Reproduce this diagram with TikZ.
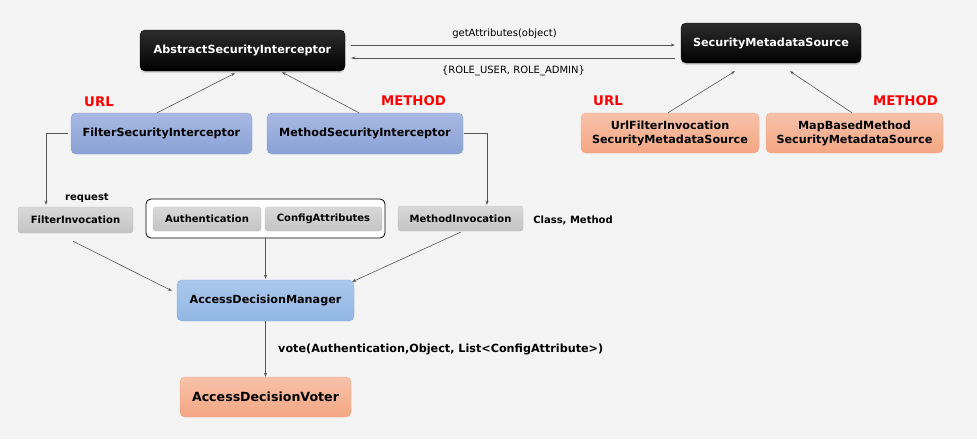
\documentclass[tikz,border=0pt]{standalone}
\usepackage{fontspec}
\setmainfont{DejaVu Sans}
\usetikzlibrary{arrows.meta,shadows}
\definecolor{bg}{HTML}{F4F4F4}
\definecolor{linec}{HTML}{555555}
\definecolor{redl}{HTML}{FF0000}
\begin{document}
\begin{tikzpicture}[x=1pt,y=-1pt,
  bigfont/.style={font=\fontsize{11.2}{14}\selectfont\bfseries},
  smallfont/.style={font=\fontsize{10}{12}\selectfont\bfseries},
  blk/.style={bigfont, text=white, rounded corners=5pt, inner sep=0pt,
    top color={rgb,255:red,45;green,45;blue,45}, bottom color=black, draw=black,
    drop shadow={opacity=0.25, shadow xshift=0pt, shadow yshift=-2pt}},
  blu/.style={bigfont, text=black, rounded corners=5pt, inner sep=0pt,
    top color={rgb,255:red,168;green,185;blue,226}, bottom color={rgb,255:red,138;green,162;blue,214},
    draw={rgb,255:red,132;green,158;blue,214}},
  adms/.style={bigfont, text=black, rounded corners=5pt, inner sep=0pt,
    top color={rgb,255:red,170;green,200;blue,236}, bottom color={rgb,255:red,146;green,183;blue,228},
    draw={rgb,255:red,132;green,172;blue,222}},
  org/.style={bigfont, text=black, rounded corners=5pt, inner sep=0pt, align=center,
    top color={rgb,255:red,248;green,194;blue,170}, bottom color={rgb,255:red,244;green,166;blue,130},
    draw={rgb,255:red,240;green,164;blue,128}},
  gry/.style={smallfont, text=black, rounded corners=3pt, inner sep=0pt,
    top color={rgb,255:red,216;green,216;blue,216}, bottom color={rgb,255:red,196;green,196;blue,196},
    draw={rgb,255:red,190;green,190;blue,190}},
  grpbox/.style={rounded corners=5pt, draw=black, fill=white, line width=0.8pt, inner sep=0pt},
  redlbl/.style={font=\fontsize{13.3}{15}\selectfont\bfseries, text=redl, inner sep=0pt},
  lbl/.style={font=\fontsize{10}{12}\selectfont, inner sep=0pt},
  blbl/.style={font=\fontsize{10}{12}\selectfont\bfseries, inner sep=0pt},
  conn/.style={draw=linec, line width=0.6pt, -{Stealth[length=4pt,width=3pt]}}
]
\fill[bg] (0,0) rectangle (977,439);
\useasboundingbox (0,0) rectangle (977,439);

% top black boxes
\node[blk, minimum width=205pt, minimum height=41pt] (asi) at (242.5,50.5) {AbstractSecurityInterceptor};
\node[blk, minimum width=180pt, minimum height=40pt] (sms) at (771,43) {SecurityMetadataSource};

% interceptors
\node[blu, minimum width=181pt, minimum height=41pt] (fsi) at (161.5,133.5) {FilterSecurityInterceptor};
\node[blu, minimum width=196pt, minimum height=41pt] (msi) at (365,133.5) {MethodSecurityInterceptor};

% metadata sources
\node[org, minimum width=178pt, minimum height=40pt] (ufi) at (670,133) {UrlFilterInvocation\\SecurityMetadataSource};
\node[org, minimum width=177pt, minimum height=40pt] (mbm) at (854.5,133) {MapBasedMethod\\SecurityMetadataSource};

% red labels
\node[redlbl] (url1) at (99,102) {URL};
\node[redlbl] (meth1) at (413.5,101) {METHOD};
\node[redlbl] (url2) at (608,101) {URL};
\node[redlbl] (meth2) at (905.5,101) {METHOD};

% middle row
\node[gry, minimum width=115pt, minimum height=26pt] (fi) at (75.5,220) {FilterInvocation};
\node[grpbox, minimum width=239pt, minimum height=39pt] (grp) at (265.5,218.5) {};
\node[gry, minimum width=108pt, minimum height=24pt] (auth) at (207,219) {Authentication};
\node[gry, minimum width=117pt, minimum height=24pt] (cfg) at (323.5,219) {ConfigAttributes};
\node[gry, minimum width=125pt, minimum height=25pt] (mi) at (460.5,218.5) {MethodInvocation};
\node[blbl] (req) at (87,198) {request};
\node[blbl] (cm) at (573,220) {Class, Method};

% manager / voter
\node[adms, minimum width=177pt, minimum height=41pt] (adm) at (265.5,300.5) {AccessDecisionManager};
\node[org, minimum width=171pt, minimum height=40pt, font=\fontsize{12.6}{15}\selectfont\bfseries] (adv) at (265.5,397) {AccessDecisionVoter};
\node[blbl, anchor=west, font=\fontsize{11.2}{13}\selectfont\bfseries] (vote) at (278,349) {vote(Authentication,Object, List<ConfigAttribute>)};

% top arrows
\draw[conn] ([xshift=6pt,yshift=5.5pt]asi.east) -- ([xshift=-6pt,yshift=-2pt]sms.west);
\draw[conn] ([xshift=-6pt,yshift=-15pt]sms.west) -- ([xshift=6pt,yshift=-7.5pt]asi.east);
\node[lbl] (ga) at (504.5,34) {getAttributes(object)};
\node[lbl] (roles) at (513.5,71) {\{ROLE\_USER, ROLE\_ADMIN\}};

% inheritance-like arrows
\draw[conn] ([xshift=-4.5pt]fsi.north) -- ([xshift=-7.5pt,yshift=-2pt]asi.south);
\draw[conn] ([xshift=-6pt]msi.north) -- ([xshift=39.5pt,yshift=-1pt]asi.south);
\draw[conn] ([xshift=-2pt]ufi.north) -- ([xshift=-36pt,yshift=-8pt]sms.south);
\draw[conn] ([xshift=-2.5pt]mbm.north) -- ([xshift=19pt,yshift=-8pt]sms.south);

% side connectors
\draw[conn] ([xshift=-3pt]fsi.west) -| ([xshift=-29.5pt,yshift=2pt]fi.north);
\draw[conn] ([xshift=1pt]msi.east) -| ([xshift=26.5pt,yshift=1pt]mi.north);

% to manager
\draw[conn] ([xshift=-2.5pt,yshift=-8pt]fi.south) -- ([xshift=-5pt,yshift=-11pt]adm.north west);
\draw[conn] (grp.south) -- ([yshift=1pt]adm.north);
\draw[conn] ([yshift=-1pt]mi.south) -- ([xshift=-2pt,yshift=-2pt]adm.north east);
\draw[conn] (adm.south) -- (adv.north);
\end{tikzpicture}
\end{document}
